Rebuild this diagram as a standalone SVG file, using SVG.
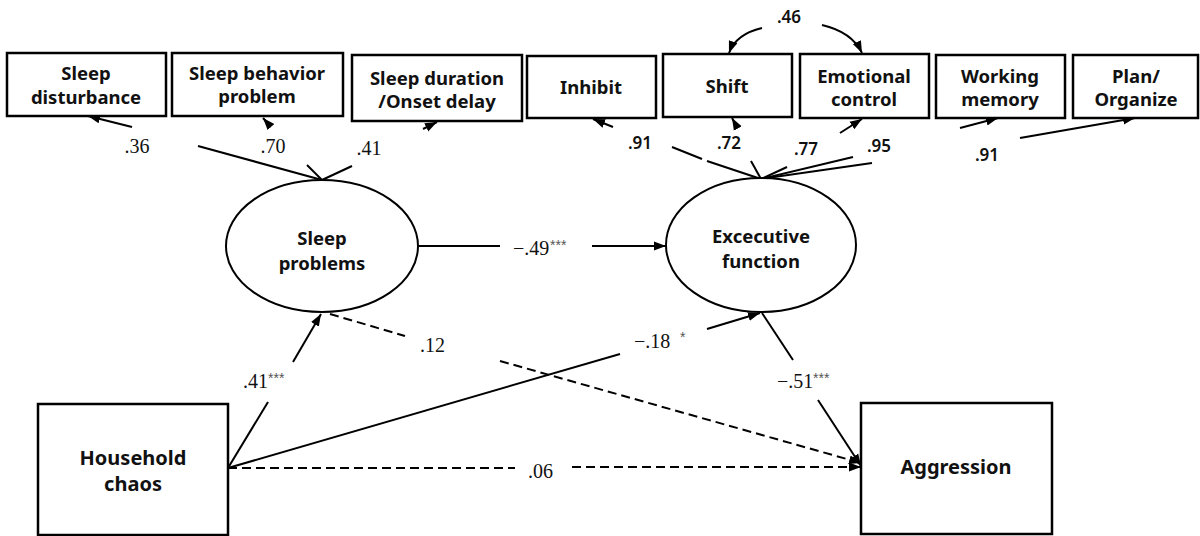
<svg xmlns="http://www.w3.org/2000/svg" width="1200" height="536" viewBox="0 0 1200 536">
  <defs>
    <marker id="arrow" markerUnits="userSpaceOnUse" markerWidth="14" markerHeight="10" refX="12" refY="5" orient="auto">
      <path d="M0,0.5 L12,5 L0,9.5 z" fill="#000"/>
    </marker>
    <style>
      .box { fill: #fff; stroke: #000; stroke-width: 2.5; }
      .lat { fill: #fff; stroke: #000; stroke-width: 2; }
      .node { font-family: "Noto Sans", "Liberation Sans", sans-serif; font-weight: bold; font-size: 18.5px; fill: #111; text-anchor: middle; }
      .big { font-size: 20px; }
      .ln { fill: none; stroke: #000; stroke-width: 2; }
      .arr { marker-end: url(#arrow); }
      .dash { stroke-dasharray: 9 5; }
      .coef { font-family: "Liberation Serif", "Times New Roman", serif; font-size: 20px; fill: #111; }
      .sig { font-family: "Liberation Sans", sans-serif; font-size: 14px; fill: #555; }
      .load { font-family: "Noto Sans", "Liberation Sans", sans-serif; font-weight: 600; font-size: 17px; fill: #111; text-anchor: middle; }
    </style>
  </defs>
  <rect width="1200" height="536" fill="#fff"/>

  <!-- connectors -->
  <g id="connectors">
    <!-- sleep problems indicators -->
    <line class="ln" x1="322" y1="180" x2="198" y2="146"/>
    <line class="ln arr" x1="132" y1="127" x2="88" y2="116"/>
    <line class="ln" x1="322" y1="180" x2="307" y2="165"/>
    <line class="ln arr" x1="271" y1="127" x2="263" y2="118"/>
    <line class="ln" x1="322" y1="180" x2="352" y2="166"/>
    <line class="ln arr" x1="423" y1="129" x2="437" y2="122"/>

    <!-- executive function indicators -->
    <line class="ln" x1="761" y1="179" x2="707" y2="161"/>
    <line class="ln" x1="702" y1="159" x2="672" y2="147"/>
    <line class="ln arr" x1="613" y1="127" x2="593" y2="119"/>
    <line class="ln" x1="761" y1="179" x2="751" y2="161"/>
    <line class="ln arr" x1="737" y1="127" x2="732" y2="118"/>
    <line class="ln" x1="761" y1="179" x2="787" y2="167"/>
    <line class="ln arr" x1="840" y1="133" x2="862" y2="119"/>
    <line class="ln" x1="761" y1="179" x2="853" y2="157"/>
    <line class="ln arr" x1="960" y1="128" x2="998" y2="118"/>
    <line class="ln" x1="761" y1="179" x2="872" y2="163"/>
    <line class="ln arr" x1="1020" y1="138" x2="1135" y2="118"/>

    <!-- residual covariance Shift / Emotional control -->
    <path class="ln arr" d="M762,28 Q736,34 729,53"/>
    <path class="ln arr" d="M822,25 Q852,32 862,53"/>

    <!-- structural paths -->
    <line class="ln" x1="418" y1="246" x2="500" y2="246"/>
    <line class="ln arr" x1="592" y1="246" x2="666" y2="246"/>

    <line class="ln" x1="228" y1="468" x2="268" y2="402"/>
    <line class="ln arr" x1="293" y1="362" x2="321" y2="314"/>

    <line class="ln" x1="228" y1="468" x2="620" y2="354"/>
    <line class="ln arr" x1="707" y1="329" x2="760" y2="313"/>

    <line class="ln dash" x1="228" y1="468" x2="515" y2="468"/>
    <line class="ln dash arr" x1="572" y1="467" x2="861" y2="467"/>

    <line class="ln dash" x1="330" y1="314" x2="405" y2="336"/>
    <line class="ln dash arr" x1="500" y1="361" x2="861" y2="463"/>

    <line class="ln" x1="762" y1="313" x2="793" y2="360"/>
    <line class="ln arr" x1="818" y1="400" x2="861" y2="466"/>
  </g>

  <!-- path coefficients -->
  <g id="coefficients">
    <text class="coef" x="137" y="153" text-anchor="middle">.36</text>
    <text class="coef" x="273" y="153" text-anchor="middle">.70</text>
    <text class="coef" x="369" y="155" text-anchor="middle">.41</text>
    <text class="coef" x="513" y="255">−.49</text>
    <text class="sig" x="550" y="250">***</text>
    <text class="coef" x="420" y="352">.12</text>
    <text class="coef" x="634" y="348">−.18</text>
    <text class="sig" x="680" y="342">*</text>
    <text class="coef" x="243" y="388">.41</text>
    <text class="sig" x="268" y="383">***</text>
    <text class="coef" x="777" y="388">−.51</text>
    <text class="sig" x="813" y="383">***</text>
    <text class="coef" x="528" y="478">.06</text>

    <text class="load" x="640" y="149">.91</text>
    <text class="load" x="729" y="149">.72</text>
    <text class="load" x="806" y="155">.77</text>
    <text class="load" x="879" y="152">.95</text>
    <text class="load" x="987" y="161">.91</text>
    <text class="load" x="789" y="23">.46</text>
  </g>

  <!-- observed indicators -->
  <g id="sleep-disturbance">
    <rect class="box" x="7" y="53" width="159" height="63"/>
    <text class="node" x="86" y="80">Sleep</text>
    <text class="node" x="86" y="104">disturbance</text>
  </g>
  <g id="sleep-behavior-problem">
    <rect class="box" x="172" y="53" width="171" height="63"/>
    <text class="node" x="257" y="80">Sleep behavior</text>
    <text class="node" x="257" y="103">problem</text>
  </g>
  <g id="sleep-duration">
    <rect class="box" x="352" y="55" width="170" height="66"/>
    <text class="node" x="437" y="85">Sleep duration</text>
    <text class="node" x="437" y="108">/Onset delay</text>
  </g>
  <g id="inhibit">
    <rect class="box" x="527" y="56" width="129" height="62"/>
    <text class="node" x="591" y="94">Inhibit</text>
  </g>
  <g id="shift">
    <rect class="box" x="663" y="54" width="129" height="63"/>
    <text class="node" x="727" y="93">Shift</text>
  </g>
  <g id="emotional-control">
    <rect class="box" x="800" y="54" width="129" height="64"/>
    <text class="node" x="864" y="83">Emotional</text>
    <text class="node" x="864" y="106">control</text>
  </g>
  <g id="working-memory">
    <rect class="box" x="936" y="55" width="129" height="63"/>
    <text class="node" x="1000" y="83">Working</text>
    <text class="node" x="1000" y="106">memory</text>
  </g>
  <g id="plan-organize">
    <rect class="box" x="1073" y="55" width="125" height="63"/>
    <text class="node" x="1136" y="83">Plan/</text>
    <text class="node" x="1136" y="106">Organize</text>
  </g>

  <!-- latent variables -->
  <g id="sleep-problems">
    <ellipse class="lat" cx="322" cy="246" rx="96" ry="66"/>
    <text class="node" x="322" y="245">Sleep</text>
    <text class="node" x="322" y="270">problems</text>
  </g>
  <g id="executive-function">
    <ellipse class="lat" cx="761" cy="245" rx="95" ry="67"/>
    <text class="node" x="761" y="243">Excecutive</text>
    <text class="node" x="761" y="268">function</text>
  </g>

  <!-- exogenous / outcome -->
  <g id="household-chaos">
    <rect class="box" x="38" y="404" width="190" height="131"/>
    <text class="node big" x="133" y="465">Household</text>
    <text class="node big" x="133" y="491">chaos</text>
  </g>
  <g id="aggression">
    <rect class="box" x="861" y="403" width="191" height="131"/>
    <text class="node big" x="956" y="474">Aggression</text>
  </g>
</svg>
